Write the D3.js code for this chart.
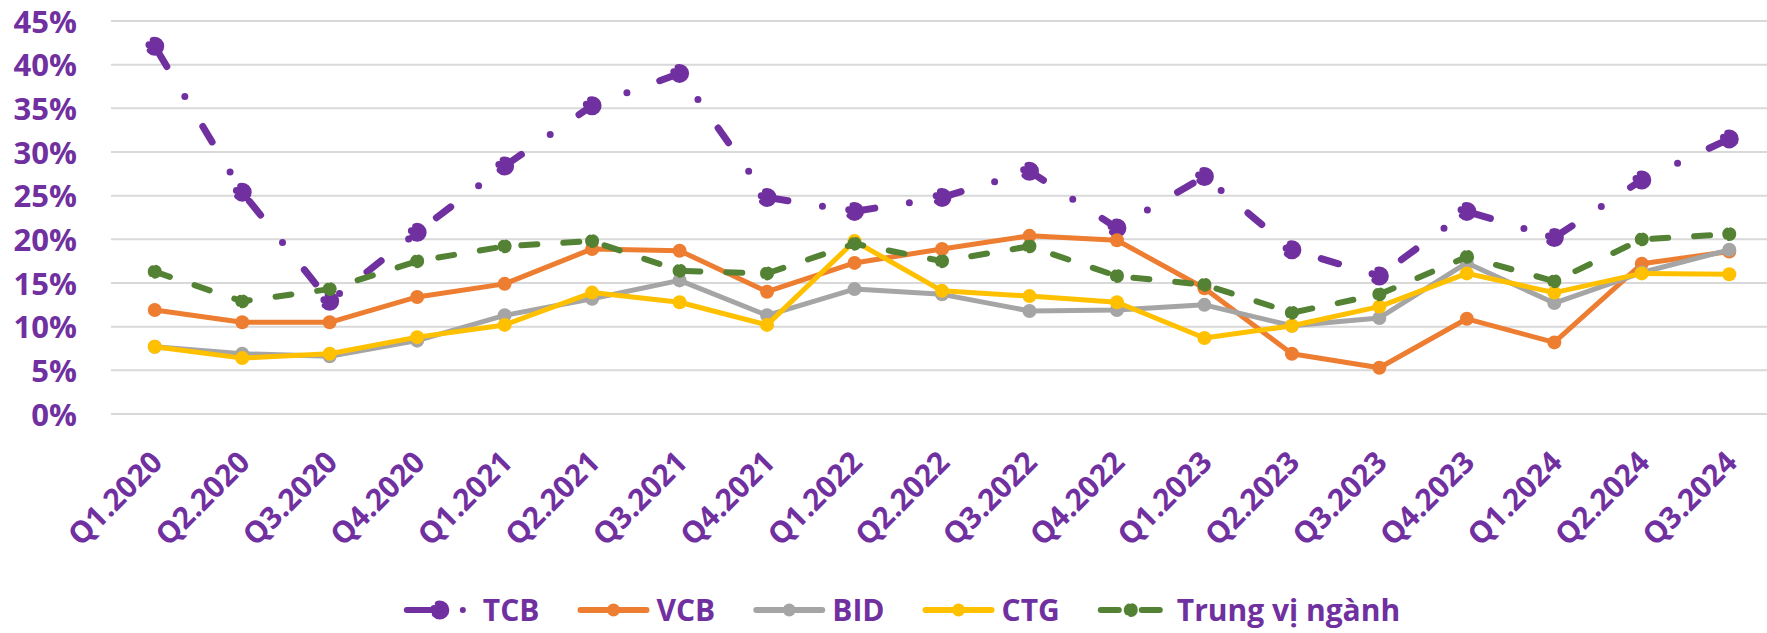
<!DOCTYPE html>
<html>
<head>
<meta charset="utf-8">
<script src="https://cdn.jsdelivr.net/npm/d3@7"></script>
<style>
	body { margin: 0; background: #fff; }
	text { font-family: 'Open Sans', sans-serif; font-weight: bold; fill: #7030A0; }
</style>
</head>
<body>
<svg id="chart-svg" width="1767" height="633"></svg>
<script>
// Quarterly values (%)
const QUARTERS = [ 'Q1.2020', 'Q2.2020', 'Q3.2020', 'Q4.2020', 'Q1.2021', 'Q2.2021', 'Q3.2021', 'Q4.2021',
	'Q1.2022', 'Q2.2022', 'Q3.2022', 'Q4.2022', 'Q1.2023', 'Q2.2023', 'Q3.2023', 'Q4.2023', 'Q1.2024', 'Q2.2024', 'Q3.2024' ];
const TCB = [ 42.1, 25.4, 12.9, 20.8, 28.4, 35.3, 39.0, 24.8, 23.2, 24.8, 27.8, 21.3, 27.2, 18.8, 15.8, 23.2, 20.2, 26.8, 31.5 ];
const VCB = [ 11.9, 10.5, 10.5, 13.4, 14.9, 18.9, 18.7, 14.0, 17.3, 18.9, 20.4, 19.9, 14.4, 6.9, 5.3, 10.9, 8.2, 17.2, 18.6 ];
const BID = [ 7.7, 6.9, 6.6, 8.4, 11.3, 13.2, 15.3, 11.3, 14.3, 13.7, 11.8, 11.9, 12.5, 10.1, 11.0, 17.3, 12.7, 16.2, 18.8 ];
const CTG = [ 7.7, 6.4, 6.9, 8.8, 10.2, 13.9, 12.8, 10.2, 19.8, 14.1, 13.5, 12.8, 8.7, 10.1, 12.3, 16.1, 13.9, 16.1, 16.0 ];
const MEDIAN = [ 16.3, 12.9, 14.3, 17.5, 19.2, 19.8, 16.4, 16.1, 19.5, 17.5, 19.2, 15.8, 14.8, 11.6, 13.7, 18.0, 15.2, 20.0, 20.6 ];
const Y_TICKS = [ 0, 5, 10, 15, 20, 25, 30, 35, 40, 45 ];

const SERIES = [
	{ name: 'TCB', values: TCB, color: '#7030A0', width: 7, dash: '18,35,0,35', offset: 82.5, r: 6, markerDash: true },
	{ name: 'VCB', values: VCB, color: '#ED7D31', width: 5, dash: null, r: 7 },
	{ name: 'BID', values: BID, color: '#A5A5A5', width: 5, dash: null, r: 7 },
	{ name: 'CTG', values: CTG, color: '#FFC000', width: 5, dash: null, r: 7 },
	{ name: 'Trung vị ngành', values: MEDIAN, color: '#548235', width: 6, dash: '16,26', offset: 0, r: 4, markerDash: true }
];

const WIDTH = 1767;
const HEIGHT = 633;
const margin = { top: 21, right: -6, bottom: 219, left: 111 };

let svg = d3.select('#chart-svg');

let xScale = d3.scalePoint().domain(QUARTERS).range([ margin.left, WIDTH - margin.right ]).padding(0.5);
let yScale = d3.scaleLinear().domain([ 0, 45 ]).range([ HEIGHT - margin.bottom, margin.top ]);

// Horizontal gridlines
svg
	.append('g')
	.attr('class', 'grid')
	.selectAll('line')
	.data(Y_TICKS)
	.enter()
	.append('line')
	.attr('x1', margin.left)
	.attr('x2', WIDTH)
	.attr('y1', (d) => yScale(d))
	.attr('y2', (d) => yScale(d))
	.attr('stroke', '#D9D9D9')
	.attr('stroke-width', 2);

// Y axis labels
let yAxis = d3.axisLeft(yScale).tickValues(Y_TICKS).tickFormat((d) => d + '%').tickSize(0).tickPadding(0);
let yAxisG = svg.append('g').attr('transform', 'translate(77,0)').call(yAxis);
yAxisG.select('.domain').remove();
yAxisG.selectAll('text').attr('font-size', 31).attr('dy', '0.36em').style('font-family', null);

// X axis labels, rotated
let xAxis = d3.axisBottom(xScale).tickSize(0).tickPadding(0);
let xAxisG = svg.append('g').attr('transform', 'translate(0,' + yScale(0) + ')').call(xAxis);
xAxisG.select('.domain').remove();
xAxisG
	.selectAll('text')
	.attr('font-size', 30)
	.attr('text-anchor', 'end')
	.attr('dy', 0)
	.attr('y', 0)
	.attr('transform', 'translate(9,50) rotate(-45)')
	.style('font-family', null);

// Lines and markers
let lineGenerator = d3.line().x((d, i) => xScale(QUARTERS[i])).y((d) => yScale(d));

SERIES.forEach((s) => {
	let g = svg.append('g').attr('class', 'series');
	g
		.append('path')
		.datum(s.values)
		.attr('d', lineGenerator)
		.attr('fill', 'none')
		.attr('stroke', s.color)
		.attr('stroke-width', s.width)
		.attr('stroke-linecap', 'round')
		.attr('stroke-linejoin', 'round')
		.attr('stroke-dasharray', s.dash)
		.attr('stroke-dashoffset', s.offset || 0);
	g
		.selectAll('circle')
		.data(s.values)
		.enter()
		.append('circle')
		.attr('cx', (d, i) => xScale(QUARTERS[i]))
		.attr('cy', (d) => yScale(d))
		.attr('r', s.r)
		.attr('fill', s.color)
		.attr('stroke', s.markerDash ? s.color : 'none')
		.attr('stroke-width', s.width)
		.attr('stroke-linecap', 'round')
		.attr('stroke-dasharray', s.markerDash ? (s.name == 'TCB' ? '14,6,0,6' : '6,4') : null);
});

// Legend, laid out left to right and centred
const SAMPLE_W = 72;
let legendG = svg.append('g').attr('class', 'legend');
let itemX = 0;
SERIES.forEach((s) => {
	let item = legendG.append('g').attr('transform', 'translate(' + itemX + ',0)');
	let dash = null;
	if (s.name == 'TCB') dash = '33,23,0,100';
	if (s.dash && s.name != 'TCB') dash = '18,23,18';
	item
		.append('line')
		.attr('x1', 3)
		.attr('x2', SAMPLE_W - 3)
		.attr('stroke', s.color)
		.attr('stroke-width', 6)
		.attr('stroke-linecap', 'round')
		.attr('stroke-dasharray', dash);
	item
		.append('circle')
		.attr('cx', s.name == 'TCB' ? 36 : s.dash ? 33 : 36)
		.attr('r', s.name == 'TCB' ? 6 : s.dash ? 4 : 6.5)
		.attr('fill', s.color)
		.attr('stroke', s.markerDash ? s.color : 'none')
		.attr('stroke-width', s.width)
		.attr('stroke-linecap', 'round')
		.attr('stroke-dasharray', s.markerDash ? (s.name == 'TCB' ? '14,6,0,6' : '6,4') : null);
	let label = item
		.append('text')
		.attr('x', SAMPLE_W + 7)
		.attr('dy', '0.36em')
		.attr('font-size', 30)
		.text(s.name);
	itemX += SAMPLE_W + 7 + label.node().getComputedTextLength() + 38;
});
let legendWidth = itemX - 38;
legendG.attr('transform', 'translate(' + (902 - legendWidth / 2) + ',610)');
</script>
</body>
</html>
